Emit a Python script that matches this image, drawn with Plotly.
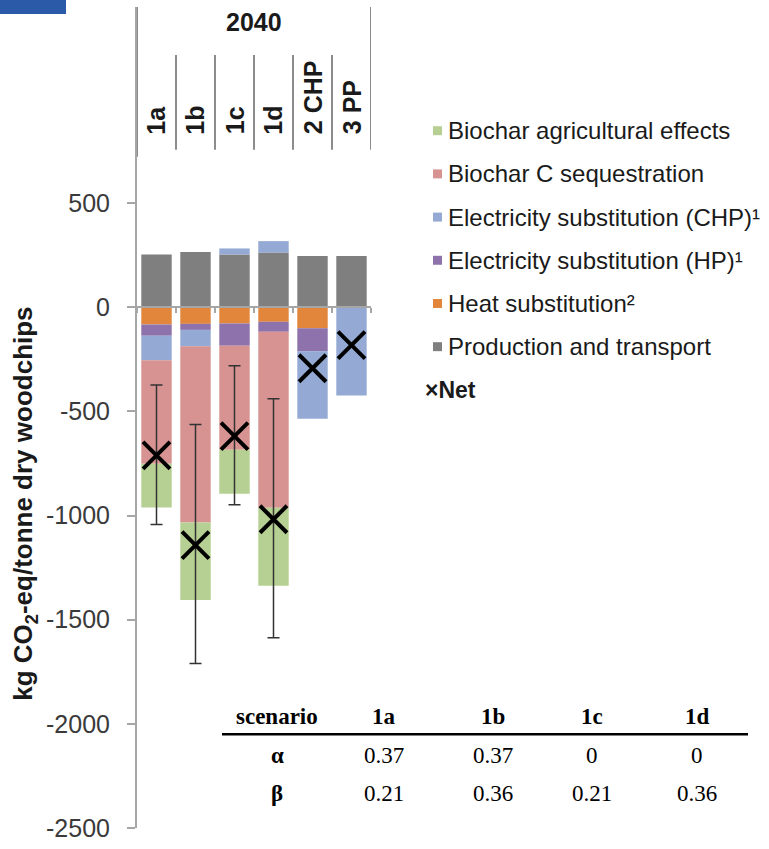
import plotly.graph_objects as go

# ---------------- data ----------------
categories = ["1a", "1b", "1c", "1d", "2 CHP", "3 PP"]
production_transport = [253, 265, 253, 262, 246, 246]
heat_substitution = [-83, -80, -78, -70, -101, 0]
elec_sub_hp = [-54, -29, -107, -48, -111, 0]
elec_sub_chp = [-118, -79, 29, 55, -324, -424]
biochar_c_seq = [-496, -845, -499, -845, 0, 0]
biochar_agri = [-211, -372, -211, -374, 0, 0]
net = [-711, -1142, -619, -1018, -293, -182]
err_plus = [338, 579, 338, 579, None, None]
err_minus = [332, 568, 329, 569, None, None]

y_ticks = [-2500, -2000, -1500, -1000, -500, 0, 500]
y_tick_labels = ["-2500", "-2000", "-1500", "-1000", "-500", "0", "500"]
header_year = "2040"

table_header = ["scenario", "1a", "1b", "1c", "1d"]
alpha_row = ["α", "0.37", "0.37", "0", "0"]
beta_row = ["β", "0.21", "0.36", "0.21", "0.36"]

# ---------------- styles ----------------
W, H = 769, 849
L_PX, R_PX, T_PX, B_PX = 137, 371, 7, 830
YMIN, YMAX = -2500, 1441

def px_y(py):
    return (B_PX - py) / (B_PX - T_PX)

def px_x(px):
    return (px - L_PX) / (R_PX - L_PX)

series = [
    ("Production and transport", production_transport, "#7F7F7F"),
    ("Heat substitution²", heat_substitution, "#E2863C"),
    ("Electricity substitution (HP)¹", elec_sub_hp, "#8E72AB"),
    ("Electricity substitution (CHP)¹", elec_sub_chp, "#94AAD4"),
    ("Biochar C sequestration", biochar_c_seq, "#D69391"),
    ("Biochar agricultural effects", biochar_agri, "#B6D093"),
]

fig = go.Figure()
for name, vals, col in series:
    fig.add_trace(go.Bar(x=categories, y=vals, name=name, marker=dict(color=col, line=dict(width=0)),
                         showlegend=False))

# error bars (only where available)
ex = [c for c, e in zip(categories, err_plus) if e is not None]
ey = [n for n, e in zip(net, err_plus) if e is not None]
ep = [e for e in err_plus if e is not None]
em = [e for e in err_minus if e is not None]
fig.add_trace(go.Scatter(x=ex, y=ey, mode="markers", marker=dict(size=1, color="rgba(0,0,0,0)"),
                         error_y=dict(type="data", array=ep, arrayminus=em, color="#333333",
                                      thickness=1.5, width=6), showlegend=False, hoverinfo="skip"))
fig.add_trace(go.Scatter(x=categories, y=net, mode="markers", name="Net",
                         marker=dict(symbol="x-thin", size=27, line=dict(width=4, color="black"),
                                     color="black"), showlegend=False))

fig.update_layout(
    width=W, height=H, barmode="relative", bargap=0.22,
    margin=dict(l=L_PX, r=W - R_PX, t=T_PX, b=H - B_PX),
    plot_bgcolor="white", paper_bgcolor="white",
    font=dict(family="Liberation Sans, Arial, sans-serif", color="#333333"),
    xaxis=dict(type="category", range=[-0.5, 5.5], anchor="free",
               position=(0 - YMIN) / (YMAX - YMIN), showline=True, linecolor="#A6A6A6",
               linewidth=2, ticks="outside", tickson="boundaries", ticklen=5,
               tickcolor="#A6A6A6", tickwidth=2, showticklabels=False, showgrid=False,
               zeroline=False),
    yaxis=dict(range=[YMIN, YMAX], tickvals=y_ticks, ticktext=y_tick_labels, showline=True,
               linecolor="#A6A6A6", linewidth=2, ticks="outside", ticklen=8,
               tickcolor="#A6A6A6", tickwidth=2, tickfont=dict(size=25, color="#3a3a3a"),
               showgrid=False, zeroline=False, ticklabelstandoff=12),
)

shapes = []
annotations = []
# header frame
shapes.append(dict(type="line", xref="x", yref="paper", x0=-0.5, x1=-0.5, y0=px_y(157), y1=px_y(7),
                   line=dict(color="#8C8C8C", width=2)))
shapes.append(dict(type="line", xref="x", yref="paper", x0=5.5, x1=5.5, y0=px_y(150), y1=px_y(7),
                   line=dict(color="#8C8C8C", width=2)))
for i in range(1, len(categories)):
    shapes.append(dict(type="line", xref="x", yref="paper", x0=i - 0.5, x1=i - 0.5,
                       y0=px_y(150), y1=px_y(55), line=dict(color="#8C8C8C", width=2)))
annotations.append(dict(xref="x", yref="paper", x=(len(categories) - 1) / 2, y=px_y(22),
                        text="<b>%s</b>" % header_year, showarrow=False, xanchor="center",
                        yanchor="middle", font=dict(size=25, color="#1a1a1a")))
for i, c in enumerate(categories):
    annotations.append(dict(xref="x", yref="paper", x=i, y=px_y(137), text="<b>%s</b>" % c,
                            textangle=-90, showarrow=False, xanchor="center", yanchor="bottom",
                            font=dict(size=25, color="#1a1a1a")))

# y title
annotations.append(dict(xref="paper", yref="paper", x=px_x(25), y=px_y(505),
                        text="<b>kg CO<sub>2</sub>-eq/tonne dry woodchips</b>", textangle=-90,
                        showarrow=False, xanchor="center", yanchor="middle",
                        font=dict(size=26, color="#1a1a1a")))

# manual legend
legend_items = list(reversed(series))
leg_y0, leg_dy = 131, 43.3
for k, (name, vals, col) in enumerate(legend_items):
    yc = leg_y0 + k * leg_dy
    shapes.append(dict(type="rect", xref="paper", yref="paper", x0=px_x(433), x1=px_x(442),
                       y0=px_y(yc + 4.5), y1=px_y(yc - 4.5), fillcolor=col, line=dict(width=0)))
    annotations.append(dict(xref="paper", yref="paper", x=px_x(446), y=px_y(yc), text=name,
                            showarrow=False, xanchor="left", yanchor="middle",
                            font=dict(size=24, color="#1a1a1a")))
yc = leg_y0 + len(legend_items) * leg_dy
annotations.append(dict(xref="paper", yref="paper", x=px_x(423), y=px_y(yc), text="<b>×Net</b>",
                        showarrow=False, xanchor="left", yanchor="middle",
                        font=dict(size=23, color="#1a1a1a")))

# logo fragment
shapes.append(dict(type="rect", xref="paper", yref="paper", x0=px_x(0), x1=px_x(66),
                   y0=px_y(14), y1=px_y(0), fillcolor="#2A5AA8", line=dict(width=0)))

# table
col_x = [277, 384, 493, 592, 697]
serif = "Liberation Serif, Times New Roman, serif"
for j, t in enumerate(table_header):
    annotations.append(dict(xref="paper", yref="paper", x=px_x(col_x[j]), y=px_y(718),
                            text="<b>%s</b>" % t, showarrow=False, xanchor="center",
                            yanchor="middle", font=dict(family=serif, size=23, color="black")))
for row, ypx in ((alpha_row, 757), (beta_row, 795)):
    for j, t in enumerate(row):
        txt = "<b>%s</b>" % t if j == 0 else t
        annotations.append(dict(xref="paper", yref="paper", x=px_x(col_x[j]), y=px_y(ypx),
                                text=txt, showarrow=False, xanchor="center", yanchor="middle",
                                font=dict(family=serif, size=23, color="black")))
shapes.append(dict(type="line", xref="paper", yref="paper", x0=px_x(222), x1=px_x(748),
                   y0=px_y(736), y1=px_y(736), line=dict(color="black", width=2.5)))

fig.update_layout(shapes=shapes, annotations=annotations)
fig.write_html("out.html")
